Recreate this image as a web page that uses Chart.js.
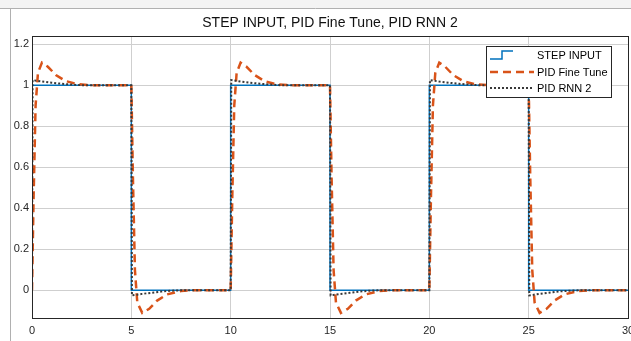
<!DOCTYPE html>
<html>
<head>
<meta charset="utf-8">
<script src="https://cdn.jsdelivr.net/npm/chart.js@4.4.0/dist/chart.umd.min.js"></script>
<style>
  html, body { margin: 0; padding: 0; background: #fff; }
  #wrap { width: 631px; height: 341px; }
</style>
</head>
<body>
<div id="wrap"><canvas id="myChart" width="631" height="341"></canvas></div>
<script>
// タイトルと凡例
var chartTitle = 'STEP INPUT, PID Fine Tune, PID RNN 2';
var seriesNames = ['STEP INPUT', 'PID Fine Tune', 'PID RNN 2'];

// 軸の目盛り
var xTicks = [0, 5, 10, 15, 20, 25, 30];
var yTicks = [0, 0.2, 0.4, 0.6, 0.8, 1, 1.2];
var xRange = [0, 30];
var yRange = [-0.135, 1.24];

// STEP INPUT
var stepT = [0, 0, 5, 5, 10, 10, 15, 15, 20, 20, 25, 25, 30];
var stepY = [0, 1, 1, 0, 0, 1, 1, 0, 0, 1, 1, 0, 0];

// PID Fine Tune
var fineT = [
  0, 0.08, 0.18, 0.3, 0.5, 0.8, 1.2, 1.7, 2.3, 3, 5,
  5.08, 5.18, 5.3, 5.55, 5.9, 6.3, 6.8, 7.5, 8, 10,
  10.08, 10.18, 10.3, 10.5, 10.8, 11.2, 11.7, 12.3, 13, 15,
  15.08, 15.18, 15.3, 15.55, 15.9, 16.3, 16.8, 17.5, 18, 20,
  20.08, 20.18, 20.3, 20.5, 20.8, 21.2, 21.7, 22.3, 23, 25,
  25.08, 25.18, 25.3, 25.55, 25.9, 26.3, 26.8, 27.5, 28, 30
];
var fineY = [
  0, 0.45, 0.9, 1.06, 1.11, 1.09, 1.05, 1.02, 1.005, 1, 1,
  0.55, 0.1, -0.06, -0.11, -0.09, -0.05, -0.02, -0.003, 0, 0,
  0.45, 0.9, 1.06, 1.11, 1.09, 1.05, 1.02, 1.005, 1, 1,
  0.55, 0.1, -0.06, -0.11, -0.09, -0.05, -0.02, -0.003, 0, 0,
  0.45, 0.9, 1.06, 1.11, 1.09, 1.05, 1.02, 1.005, 1, 1,
  0.55, 0.1, -0.06, -0.11, -0.09, -0.05, -0.02, -0.003, 0, 0
];

// PID RNN 2
var rnnT = [
  0, 0.03, 0.5, 1, 1.5, 2, 2.5, 5,
  5.03, 5.5, 6, 6.5, 7, 7.5, 10,
  10.03, 10.5, 11, 11.5, 12, 12.5, 15,
  15.03, 15.5, 16, 16.5, 17, 17.5, 20,
  20.03, 20.5, 21, 21.5, 22, 22.5, 25,
  25.03, 25.5, 26, 26.5, 27, 27.5, 30
];
var rnnY = [
  0, 1.025, 1.018, 1.012, 1.007, 1.003, 1, 1,
  -0.025, -0.018, -0.012, -0.006, -0.002, 0, 0,
  1.025, 1.018, 1.012, 1.007, 1.003, 1, 1,
  -0.025, -0.018, -0.012, -0.006, -0.002, 0, 0,
  1.025, 1.018, 1.012, 1.007, 1.003, 1, 1,
  -0.025, -0.018, -0.012, -0.006, -0.002, 0, 0
];

var colors = ['#0072BD', '#D95319', '#383838'];
var dashes = [[], [8, 5], [2, 2]];
var widths = [1.5, 2.5, 2];

function toPoints(ts, ys) {
  return ts.map(function (t, i) { return { x: t, y: ys[i] }; });
}

// 枠・タイトル・凡例
var framePlugin = {
  id: 'frame',
  beforeDraw: function (chart) {
    var ctx = chart.ctx;
    ctx.save();
    ctx.fillStyle = '#ffffff';
    ctx.fillRect(0, 0, chart.width, chart.height);
    ctx.fillStyle = '#f3f3f3';
    ctx.fillRect(0, 0, chart.width, 8);
    ctx.strokeStyle = '#b0b0b0';
    ctx.lineWidth = 1;
    ctx.beginPath();
    ctx.moveTo(0, 8.5); ctx.lineTo(chart.width, 8.5);
    ctx.moveTo(10.5, 8.5); ctx.lineTo(10.5, chart.height);
    ctx.stroke();
    ctx.restore();
  },
  afterDatasetsDraw: function (chart) {
    var ctx = chart.ctx, a = chart.chartArea;
    ctx.save();
    ctx.strokeStyle = '#262626';
    ctx.lineWidth = 1;
    ctx.strokeRect(Math.round(a.left) + 0.5, Math.round(a.top) + 0.5,
      Math.round(a.right - a.left), Math.round(a.bottom - a.top));
    ctx.restore();
  },
  afterDraw: function (chart) {
    var ctx = chart.ctx, a = chart.chartArea;
    ctx.save();
    // タイトル
    ctx.fillStyle = '#111';
    ctx.font = '14px "Liberation Sans", Arial, sans-serif';
    ctx.textAlign = 'center';
    ctx.textBaseline = 'middle';
    ctx.fillText(chartTitle, (a.left + a.right) / 2, 23);

    // 凡例
    var bx = 486.5, by = 46.5, bw = 125, bh = 51;
    ctx.fillStyle = '#fff';
    ctx.fillRect(bx, by, bw, bh);
    ctx.strokeStyle = '#262626';
    ctx.lineWidth = 1;
    ctx.strokeRect(bx, by, bw, bh);
    var rows = [55, 72, 88];
    ctx.font = '11px "Liberation Sans", Arial, sans-serif';
    ctx.textAlign = 'left';
    for (var i = 0; i < 3; i++) {
      var y = rows[i];
      ctx.strokeStyle = colors[i];
      ctx.lineWidth = widths[i];
      ctx.setLineDash(dashes[i]);
      ctx.beginPath();
      if (i === 0) {
        ctx.moveTo(490, y + 4); ctx.lineTo(502, y + 4);
        ctx.lineTo(502, y - 4); ctx.lineTo(513, y - 4);
      } else {
        ctx.moveTo(490, y); ctx.lineTo(534, y);
      }
      ctx.stroke();
      ctx.setLineDash([]);
      ctx.fillStyle = '#000';
      ctx.fillText(seriesNames[i], 537, y + 0.5);
    }
    ctx.restore();
  }
};

var ctx = document.getElementById('myChart').getContext('2d');
var chart = new Chart(ctx, {
  type: 'line',
  data: {
    datasets: [
      { label: seriesNames[0], data: toPoints(stepT, stepY), order: 2 },
      { label: seriesNames[1], data: toPoints(fineT, fineY), order: 1 },
      { label: seriesNames[2], data: toPoints(rnnT, rnnY), order: 0 }
    ].map(function (d, i) {
      d.borderColor = colors[i];
      d.borderWidth = widths[i];
      d.borderDash = dashes[i];
      d.pointRadius = 0;
      d.tension = 0;
      d.fill = false;
      return d;
    })
  },
  options: {
    responsive: false,
    animation: false,
    layout: { padding: { top: 36, right: 3, left: 0, bottom: 0 } },
    plugins: {
      legend: { display: false },
      title: { display: false },
      tooltip: { enabled: false }
    },
    scales: {
      x: {
        type: 'linear',
        min: xRange[0], max: xRange[1],
        afterBuildTicks: function (s) { s.ticks = xTicks.map(function (v) { return { value: v }; }); },
        afterFit: function (s) { s.height = 23; s.paddingLeft = 0; s.paddingRight = 0; },
        ticks: {
          maxRotation: 0, autoSkip: false, padding: 6, color: '#262626',
          font: { family: '"Liberation Sans", Arial, sans-serif', size: 11 },
          callback: function (v) { return String(v); }
        },
        grid: { color: '#cfcfcf', drawTicks: false },
        border: { display: false }
      },
      y: {
        min: yRange[0], max: yRange[1],
        afterBuildTicks: function (s) { s.ticks = yTicks.map(function (v) { return { value: v }; }); },
        afterFit: function (s) { s.width = 32; s.paddingTop = 0; s.paddingBottom = 0; },
        ticks: {
          padding: 3, color: '#262626',
          font: { family: '"Liberation Sans", Arial, sans-serif', size: 11 },
          callback: function (v) { return String(Math.round(v * 10) / 10); }
        },
        grid: { color: '#cfcfcf', drawTicks: false },
        border: { display: false }
      }
    }
  },
  plugins: [framePlugin]
});
</script>
</body>
</html>
